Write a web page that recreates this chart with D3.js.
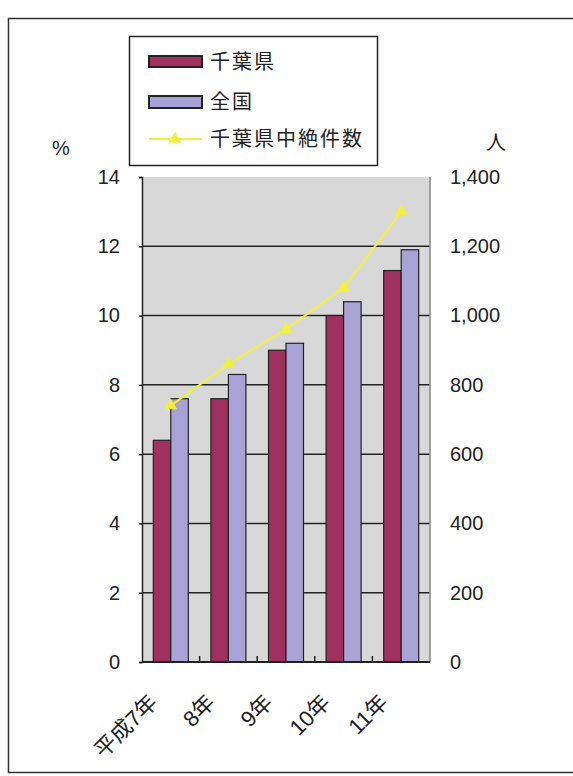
<!DOCTYPE html>
<html>
<head>
<meta charset="utf-8">
<script src="https://cdn.jsdelivr.net/npm/d3@7"></script>
<style>
  body { margin: 0; background: #fff; }
  svg { display: block; font-family: "Liberation Sans", "Noto Sans CJK JP", sans-serif; }
</style>
</head>
<body>
<div id="chart"></div>
<script>
// Data
const categories = ['平成7年', '8年', '9年', '10年', '11年'];
const chibaRate = [6.4, 7.6, 9.0, 10.0, 11.3];       // 千葉県 (%)
const nationalRate = [7.6, 8.3, 9.2, 10.4, 11.9];    // 全国 (%)
const chibaCount = [740, 860, 960, 1080, 1300];      // 千葉県中絶件数 (人)
const leftTicks = [0, 2, 4, 6, 8, 10, 12, 14];
const rightTicks = [0, 200, 400, 600, 800, 1000, 1200, 1400];
const seriesNames = ['千葉県', '全国', '千葉県中絶件数'];

const width = 573, height = 776;
const plot = { left: 142, right: 430, top: 177, bottom: 662 };

const crimson = '#a0305e';
const lavender = '#a9a2d6';
const yellow = '#f0f03a';

const svg = d3.select('#chart')
    .append('svg')
    .attr('width', width)
    .attr('height', height);

// Outer frame (right edge runs off the picture)
svg.append('rect')
    .attr('x', 8.5).attr('y', 18.5)
    .attr('width', 600).attr('height', 754)
    .style('fill', 'none')
    .style('stroke', '#333')
    .style('stroke-width', 1.5);

// Scales
const x = d3.scaleBand()
    .domain(categories)
    .range([plot.left, plot.right]);

const xSub = d3.scaleBand()
    .domain(['chiba', 'national'])
    .range([0, x.bandwidth()])
    .paddingOuter(0.646);

const yLeft = d3.scaleLinear().domain([0, 14]).range([plot.bottom, plot.top]);
const yRight = d3.scaleLinear().domain([0, 1400]).range([plot.bottom, plot.top]);

// Plot background
svg.append('rect')
    .attr('x', plot.left).attr('y', plot.top)
    .attr('width', plot.right - plot.left)
    .attr('height', plot.bottom - plot.top)
    .style('fill', '#d8d8d8');

// Gridlines
svg.append('g')
    .selectAll('line')
    .data(leftTicks.filter(d => d > 0 && d < 14))
    .enter()
    .append('line')
    .attr('x1', plot.left).attr('x2', plot.right)
    .attr('y1', d => yLeft(d)).attr('y2', d => yLeft(d))
    .style('stroke', '#222')
    .style('stroke-width', 1.5);

// Bars
const groups = svg.append('g')
    .selectAll('g')
    .data(categories)
    .enter()
    .append('g')
    .attr('transform', d => `translate(${x(d)},0)`);

groups.append('rect')
    .attr('x', xSub('chiba'))
    .attr('y', (d, i) => yLeft(chibaRate[i]))
    .attr('width', xSub.bandwidth())
    .attr('height', (d, i) => plot.bottom - yLeft(chibaRate[i]))
    .style('fill', crimson)
    .style('stroke', '#222')
    .style('stroke-width', 1.2);

groups.append('rect')
    .attr('x', xSub('national'))
    .attr('y', (d, i) => yLeft(nationalRate[i]))
    .attr('width', xSub.bandwidth())
    .attr('height', (d, i) => plot.bottom - yLeft(nationalRate[i]))
    .style('fill', lavender)
    .style('stroke', '#222')
    .style('stroke-width', 1.2);

// Right border of plot
svg.append('line')
    .attr('x1', plot.right).attr('x2', plot.right)
    .attr('y1', plot.top).attr('y2', plot.bottom)
    .style('stroke', '#888')
    .style('stroke-width', 1.5);

// Left axis
const leftAxis = svg.append('g')
    .attr('transform', `translate(${plot.left},0)`)
    .call(d3.axisLeft(yLeft).tickValues(leftTicks).tickSize(3).tickPadding(19));
leftAxis.select('.domain').style('stroke', '#222').style('stroke-width', 1.5);
leftAxis.selectAll('line').style('stroke', '#222').style('stroke-width', 1.5);
leftAxis.selectAll('text')
    .style('font-size', '20px')
    .style('font-family', '"Liberation Sans", sans-serif')
    .style('fill', '#222');

// Right axis
const rightAxis = svg.append('g')
    .attr('transform', `translate(${plot.right},0)`)
    .call(d3.axisRight(yRight).tickValues(rightTicks).tickSize(0).tickPadding(20)
        .tickFormat(d3.format(',')));
rightAxis.select('.domain').remove();
rightAxis.selectAll('text')
    .style('font-size', '20px')
    .style('font-family', '"Liberation Sans", sans-serif')
    .style('fill', '#222');

// Bottom axis with ticks between categories
svg.append('line')
    .attr('x1', plot.left).attr('x2', plot.right)
    .attr('y1', plot.bottom).attr('y2', plot.bottom)
    .style('stroke', '#222')
    .style('stroke-width', 2);

svg.append('g')
    .selectAll('line')
    .data(categories.slice(1))
    .enter()
    .append('line')
    .attr('x1', d => x(d)).attr('x2', d => x(d))
    .attr('y1', plot.bottom).attr('y2', plot.bottom - 6)
    .style('stroke', '#222')
    .style('stroke-width', 1.5);

// Category labels, rotated
svg.append('g')
    .selectAll('text')
    .data(categories)
    .enter()
    .append('text')
    .attr('transform', d => `translate(${x(d) + x.bandwidth() / 2 - 12},704) rotate(-45)`)
    .style('text-anchor', 'end')
    .style('font-size', '22px')
    .style('fill', '#222')
    .text(d => d);

// Line series on right axis
const line = d3.line()
    .x((d, i) => x(categories[i]) + x.bandwidth() / 2)
    .y(d => yRight(d));

svg.append('path')
    .datum(chibaCount)
    .attr('d', line)
    .style('fill', 'none')
    .style('stroke', yellow)
    .style('stroke-width', 2);

const triangle = d3.symbol().type(d3.symbolTriangle).size(70);

svg.append('g')
    .selectAll('path')
    .data(chibaCount)
    .enter()
    .append('path')
    .attr('d', triangle)
    .attr('transform', (d, i) => `translate(${x(categories[i]) + x.bandwidth() / 2},${yRight(d)})`)
    .style('fill', yellow);

// Axis unit labels
svg.append('text')
    .attr('x', 52).attr('y', 155)
    .style('font-size', '20px')
    .style('fill', '#222')
    .text('%');

svg.append('text')
    .attr('x', 486).attr('y', 150)
    .style('font-size', '20px')
    .style('fill', '#222')
    .text('人');

// Legend
const legend = svg.append('g');
legend.append('rect')
    .attr('x', 129.5).attr('y', 36.5)
    .attr('width', 248).attr('height', 129)
    .style('fill', '#fff')
    .style('stroke', '#222')
    .style('stroke-width', 1.5);

const legendY = [62, 102, 139];

legend.append('rect')
    .attr('x', 149).attr('y', legendY[0] - 6)
    .attr('width', 53).attr('height', 11)
    .style('fill', crimson)
    .style('stroke', '#222')
    .style('stroke-width', 2);

legend.append('rect')
    .attr('x', 149).attr('y', legendY[1] - 6)
    .attr('width', 53).attr('height', 12)
    .style('fill', lavender)
    .style('stroke', '#222')
    .style('stroke-width', 2);

legend.append('line')
    .attr('x1', 149).attr('x2', 202)
    .attr('y1', legendY[2]).attr('y2', legendY[2])
    .style('stroke', yellow)
    .style('stroke-width', 2);

legend.append('path')
    .attr('d', triangle)
    .attr('transform', `translate(175,${legendY[2]})`)
    .style('fill', yellow);

legend.selectAll('text.item')
    .data(seriesNames)
    .enter()
    .append('text')
    .attr('class', 'item')
    .attr('x', 210)
    .attr('y', (d, i) => legendY[i])
    .attr('dy', '0.35em')
    .style('font-size', '20px')
    .style('letter-spacing', '2px')
    .style('fill', '#222')
    .text(d => d);
</script>
</body>
</html>
